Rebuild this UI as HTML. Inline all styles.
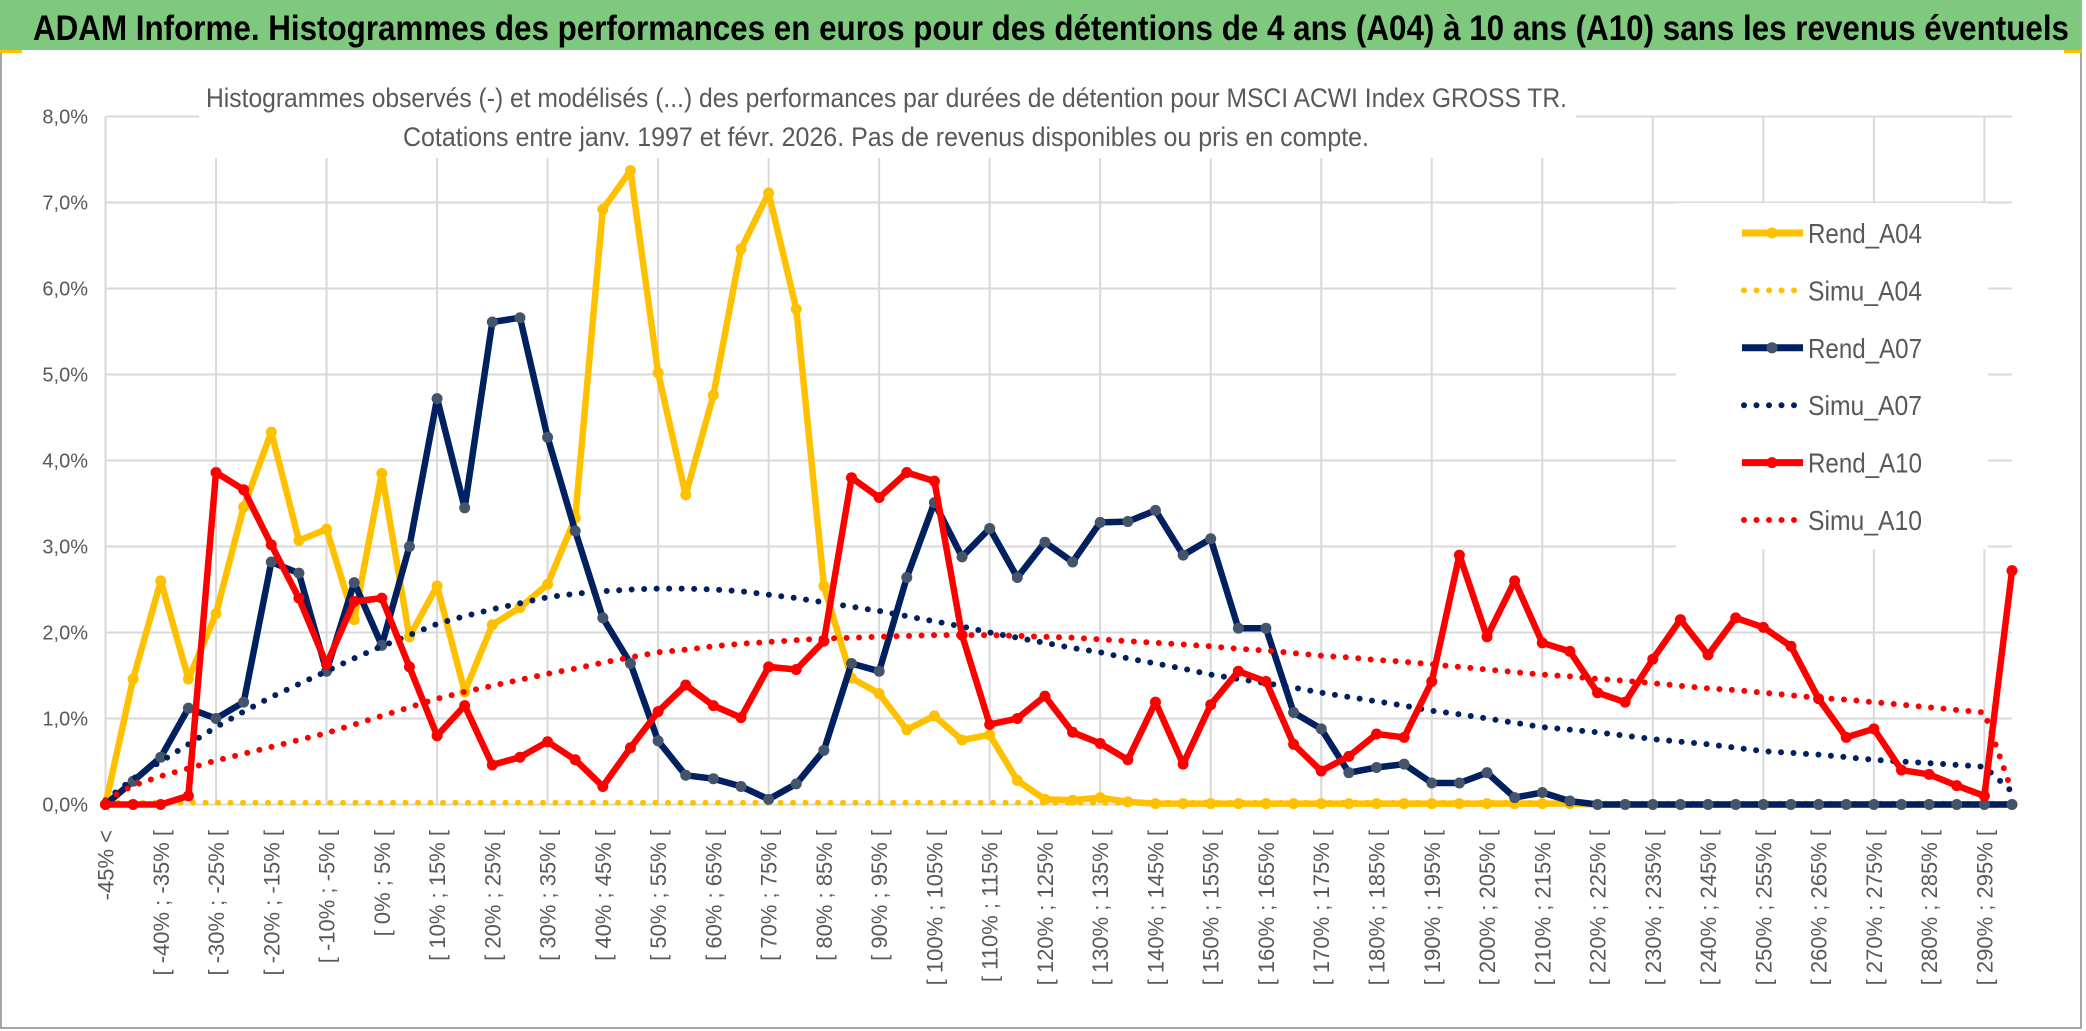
<!DOCTYPE html>
<html><head><meta charset="utf-8"><title>ADAM Informe</title>
<style>
html,body{margin:0;padding:0;background:#fff;}
svg{display:block;}
text{font-family:"Liberation Sans",sans-serif;}
</style></head>
<body>
<svg id="chart" width="2086" height="1031" viewBox="0 0 2086 1031" xmlns="http://www.w3.org/2000/svg">
  <rect x="0" y="0" width="2086" height="1031" fill="#ffffff"/>
  <rect x="1" y="1" width="2080" height="1027" fill="none" stroke="#a6a6a6" stroke-width="2"/>
  <rect x="0" y="0" width="2082" height="50" fill="#7ec97e"/>
  <rect x="0" y="50" width="22" height="3" fill="#ffc000"/>
  <rect x="2064" y="50" width="18" height="3" fill="#ffc000"/>
  <text x="33" y="40" font-size="35" font-weight="bold" fill="#000" textLength="2036" lengthAdjust="spacingAndGlyphs">ADAM Informe. Histogrammes des performances en euros pour des détentions de 4 ans (A04) à 10 ans (A10) sans les revenus éventuels</text>
  <g id="grid"></g>
  <rect x="199" y="58" width="1377" height="100" fill="#fff"/>
  <text x="206" y="107" font-size="27" fill="#595959" textLength="1361" lengthAdjust="spacingAndGlyphs">Histogrammes observés (-) et modélisés (...) des performances par durées de détention pour MSCI ACWI Index GROSS TR.</text>
  <text x="403" y="146" font-size="27" fill="#595959" textLength="966" lengthAdjust="spacingAndGlyphs">Cotations entre janv. 1997 et févr. 2026. Pas de revenus disponibles ou pris en compte.</text>
  <rect x="1676" y="203" width="312" height="346" fill="#fff"/>
  <g id="yaxis"></g>
  <g id="xaxis"></g>
  <g id="series"></g>
  <g id="legend"></g>
</svg>
<script>
const yTicks = ["0,0%","1,0%","2,0%","3,0%","4,0%","5,0%","6,0%","7,0%","8,0%"];
const yTickValues = [0,1,2,3,4,5,6,7,8];
const categories = ["-45% <"];
const lowerBounds = [-45,-40,-35,-30,-25,-20,-15,-10,-5,0,5,10,15,20,25,30,35,40,45,50,55,60,65,70,75,80,85,90,95,100,105,110,115,120,125,130,135,140,145,150,155,160,165,170,175,180,185,190,195,200,205,210,215,220,225,230,235,240,245,250,255,260,265,270,275,280,285,290,295];
for (const b of lowerBounds) categories.push("[ " + b + "% ; " + (b + 5) + "% [");

const rendA04 = [0,1.46,2.60,1.46,2.22,3.46,4.33,3.07,3.20,2.15,3.85,1.95,2.54,1.31,2.09,2.29,2.56,3.33,6.92,7.37,5.02,3.60,4.76,6.46,7.11,5.76,2.54,1.47,1.29,0.87,1.03,0.75,0.81,0.28,0.06,0.05,0.08,0.03,0.01,0.01,0.01,0.01,0.01,0.01,0.01,0.01,0.01,0.01,0.01,0.01,0.01,0.01,0.01,0.01,0,0,0,0,0,0,0,0,0,0,0,0,0,0,0,0];
const simuA04 = [0.02,0.02,0.02,0.02,0.02,0.02,0.02,0.02,0.02,0.02,0.02,0.02,0.02,0.02,0.02,0.02,0.02,0.02,0.02,0.02,0.02,0.02,0.02,0.02,0.02,0.02,0.02,0.02,0.02,0.02,0.02,0.02,0.02,0.02,0.02,0.02,0.02,0.02,0.02,0.02,0.02,0.02,0.02,0.02,0.02,0.02,0.02,0.02,0.02,0.02,0.02,0.02,0.02,0.01,0.01,0.01,0.01,0.01,0.01,0.01,0.01,0.01,0.01,0.01,0.01,0.01,0.01,0.01,0.01,0.01];
const rendA07 = [0,0.27,0.55,1.12,1.00,1.19,2.82,2.69,1.55,2.58,1.85,3.00,4.72,3.45,5.61,5.66,4.27,3.18,2.17,1.64,0.74,0.34,0.30,0.21,0.06,0.24,0.63,1.64,1.55,2.64,3.51,2.88,3.21,2.64,3.05,2.82,3.28,3.29,3.42,2.90,3.09,2.05,2.05,1.07,0.88,0.37,0.43,0.47,0.25,0.25,0.37,0.08,0.14,0.04,0,0,0,0,0,0,0,0,0,0,0,0,0,0,0,0];
const simuA07 = [0.05,0.30,0.50,0.70,0.90,1.08,1.25,1.40,1.55,1.70,1.84,1.97,2.10,2.19,2.27,2.34,2.41,2.45,2.48,2.50,2.51,2.51,2.50,2.48,2.44,2.40,2.35,2.30,2.25,2.19,2.13,2.07,2.00,1.94,1.88,1.82,1.77,1.70,1.64,1.58,1.51,1.46,1.41,1.36,1.30,1.25,1.20,1.15,1.09,1.05,1.00,0.95,0.90,0.87,0.84,0.80,0.76,0.73,0.70,0.66,0.62,0.60,0.58,0.55,0.52,0.50,0.48,0.46,0.44,0.15];
const rendA10 = [0,0,0,0.10,3.86,3.66,3.02,2.40,1.63,2.36,2.40,1.60,0.80,1.15,0.46,0.55,0.73,0.52,0.21,0.66,1.08,1.39,1.15,1.01,1.60,1.57,1.90,3.80,3.57,3.86,3.76,1.97,0.93,1.00,1.26,0.84,0.71,0.52,1.19,0.47,1.16,1.55,1.43,0.70,0.39,0.56,0.82,0.78,1.43,2.90,1.95,2.60,1.88,1.78,1.30,1.19,1.69,2.15,1.74,2.17,2.06,1.84,1.23,0.78,0.88,0.40,0.35,0.22,0.10,2.72];
const simuA10 = [0.05,0.22,0.33,0.42,0.51,0.59,0.67,0.75,0.83,0.93,1.03,1.13,1.23,1.31,1.38,1.45,1.52,1.58,1.65,1.71,1.77,1.80,1.84,1.87,1.89,1.91,1.93,1.94,1.95,1.96,1.97,1.97,1.97,1.96,1.95,1.94,1.92,1.90,1.88,1.86,1.84,1.81,1.79,1.76,1.73,1.71,1.68,1.66,1.63,1.60,1.57,1.54,1.51,1.49,1.46,1.44,1.41,1.38,1.35,1.33,1.30,1.27,1.24,1.22,1.19,1.16,1.13,1.10,1.07,0.15];

const NS = "http://www.w3.org/2000/svg";
const X0 = 105.5, X1 = 2012, Y0 = 804.5, YTOP = 116.5, YMAX = 8;
const nCat = categories.length;
function xScale(i){ return X0 + i * (X1 - X0) / (nCat - 1); }
function yScale(v){ return Y0 - v * (Y0 - YTOP) / YMAX; }
function mk(tag, attrs){ const e = document.createElementNS(NS, tag); for (const k in attrs) e.setAttribute(k, attrs[k]); return e; }

const grid = document.getElementById('grid');
for (let t = 0; t < yTickValues.length; t++) {
  const y = yScale(yTickValues[t]);
  const l = mk('line', {x1: X0, x2: X1, y1: y, y2: y, stroke: '#d9d9d9', 'stroke-width': 2});
  
  
  grid.appendChild(l);
}
for (let i = 0; i < nCat; i += 4) {
  const x = xScale(i);
  const l = mk('line', {x1: x, x2: x, y1: YTOP, y2: Y0, stroke: '#d9d9d9', 'stroke-width': 2});
  
  
  grid.appendChild(l);
}

const yaxis = document.getElementById('yaxis');
for (let t = 0; t < yTicks.length; t++) {
  const tx = mk('text', {x: 88, y: yScale(yTickValues[t]) + 7, 'font-size': 20, fill: '#595959', 'text-anchor': 'end'});
  tx.textContent = yTicks[t];
  
  
  yaxis.appendChild(tx);
}

const xaxis = document.getElementById('xaxis');
for (let i = 0; i < nCat; i += 2) {
  const x = xScale(i) + 8;
  const tx = mk('text', {x: 0, y: 0, 'font-size': 22, fill: '#595959', 'text-anchor': 'end', transform: 'translate(' + x + ',830) rotate(-90)'});
  tx.textContent = categories[i];
  
  
  xaxis.appendChild(tx);
}

const seriesG = document.getElementById('series');
function pathFor(vals){ let d = ''; vals.forEach((v, i) => { d += (i ? 'L' : 'M') + xScale(i).toFixed(1) + ' ' + yScale(v).toFixed(1); }); return d; }
function drawSolid(vals, color, marker, name){
  const g = mk('g', {});
  
  
  const p = mk('path', {d: pathFor(vals), fill: 'none', stroke: color, 'stroke-width': 6.5, 'stroke-linejoin': 'round'});
  
  
  g.appendChild(p);
  vals.forEach((v, i) => {
    const c = mk('circle', {cx: xScale(i), cy: yScale(v), r: 5.5, fill: marker});
    
    
    g.appendChild(c);
  });
  seriesG.appendChild(g);
}
function drawDotted(vals, color, name){
  const p = mk('path', {d: pathFor(vals), fill: 'none', stroke: color, 'stroke-width': 6, 'stroke-linecap': 'round', 'stroke-dasharray': '0 12.5'});
  
  
  seriesG.appendChild(p);
}
drawSolid(rendA04, '#ffc000', '#ffc000', 'rend-a04');
drawDotted(simuA04, '#ffc000', 'simu-a04');
drawSolid(rendA07, '#002060', '#44546a', 'rend-a07');
drawDotted(simuA07, '#002060', 'simu-a07');
drawSolid(rendA10, '#ff0000', '#ff0000', 'rend-a10');
drawDotted(simuA10, '#ff0000', 'simu-a10');

const legendNames = ["Rend_A04","Simu_A04","Rend_A07","Simu_A07","Rend_A10","Simu_A10"];
const legendColors = ["#ffc000","#ffc000","#002060","#002060","#ff0000","#ff0000"];
const legendMarkers = ["#ffc000",null,"#44546a",null,"#ff0000",null];
const legend = document.getElementById('legend');
for (let k = 0; k < legendNames.length; k++) {
  const y = 233 + k * 57.4;
  const g = mk('g', {});
  
  
  if (legendMarkers[k]) {
    g.appendChild(mk('line', {x1: 1742, x2: 1803, y1: y, y2: y, stroke: legendColors[k], 'stroke-width': 7}));
    g.appendChild(mk('circle', {cx: 1772, cy: y, r: 5.5, fill: legendMarkers[k]}));
  } else {
    g.appendChild(mk('line', {x1: 1744, x2: 1800, y1: y, y2: y, stroke: legendColors[k], 'stroke-width': 6, 'stroke-linecap': 'round', 'stroke-dasharray': '0 12.5'}));
  }
  const tx = mk('text', {x: 1808, y: y + 10, 'font-size': 28, fill: '#595959', textLength: 114, lengthAdjust: 'spacingAndGlyphs'});
  tx.textContent = legendNames[k];
  g.appendChild(tx);
  legend.appendChild(g);
}
</script>
</body></html>
